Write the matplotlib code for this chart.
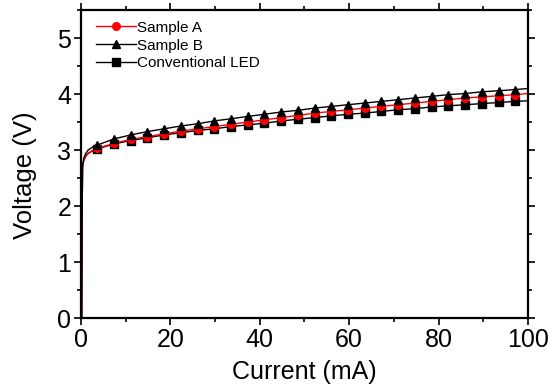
import numpy as np
import matplotlib
matplotlib.use('Agg')
import matplotlib.pyplot as plt
from matplotlib.ticker import MultipleLocator

plt.rcParams['font.family'] = ['Liberation Sans', 'DejaVu Sans']

# current (mA): knee region, then the points that carry markers, then the end point
current = [0.15, 0.25, 0.35, 0.6, 1.0, 1.6, 2.5,
           3.65, 7.39, 11.13, 14.87, 18.61, 22.35, 26.09, 29.83, 33.57, 37.31,
           41.05, 44.79, 48.53, 52.27, 56.01, 59.75, 63.49, 67.23, 70.97,
           74.71, 78.45, 82.19, 85.93, 89.67, 93.41, 97.15, 100.0]

sample_a = [0.0, 1.7, 2.68, 2.80, 2.88, 2.94, 2.99,
            3.03, 3.12, 3.19, 3.24, 3.29, 3.34, 3.38, 3.42, 3.46, 3.50,
            3.54, 3.58, 3.62, 3.66, 3.69, 3.72, 3.75, 3.78, 3.81,
            3.84, 3.87, 3.90, 3.93, 3.95, 3.97, 3.99, 4.01]

sample_b = [0.0, 1.8, 2.72, 2.85, 2.93, 3.00, 3.05,
            3.09, 3.20, 3.27, 3.33, 3.38, 3.43, 3.47, 3.52, 3.56, 3.60,
            3.64, 3.68, 3.71, 3.75, 3.78, 3.81, 3.84, 3.87, 3.90,
            3.93, 3.96, 3.99, 4.01, 4.04, 4.06, 4.08, 4.10]

conventional = [0.0, 1.7, 2.70, 2.81, 2.88, 2.94, 2.98,
                3.02, 3.11, 3.17, 3.22, 3.27, 3.31, 3.35, 3.38, 3.42, 3.45,
                3.48, 3.52, 3.55, 3.58, 3.61, 3.64, 3.66, 3.69, 3.72,
                3.74, 3.77, 3.79, 3.81, 3.83, 3.85, 3.87, 3.88]

marked = list(range(7, len(current) - 1))

fig = plt.figure(figsize=(5.49, 3.89), dpi=100)
ax = fig.add_axes([0.1475, 0.1825, 0.8142, 0.7915])

lc, = ax.plot(current, conventional, color='black', lw=1.0, marker='s', ms=5.5,
              markevery=marked, label='Conventional LED')
la, = ax.plot(current, sample_a, color='red', lw=1.0, marker='o', ms=5.5,
              markevery=marked, label='Sample A')
lb, = ax.plot(current, sample_b, color='black', lw=1.0, marker='^', ms=6,
              markevery=marked, label='Sample B')

ax.set_xlim(0, 100)
ax.set_ylim(0, 5.5)
ax.xaxis.set_major_locator(MultipleLocator(20))
ax.xaxis.set_minor_locator(MultipleLocator(10))
ax.yaxis.set_major_locator(MultipleLocator(1))
ax.yaxis.set_minor_locator(MultipleLocator(0.5))
ax.tick_params(which='both', direction='out', top=True, right=True, width=1.2)
ax.tick_params(which='major', length=5, labelsize=18, pad=2)
ax.tick_params(which='minor', length=3)
for s in ax.spines.values():
    s.set_linewidth(1.6)

ax.set_xlabel('Current (mA)', fontsize=18, labelpad=6)
ax.set_ylabel('Voltage (V)', fontsize=18.5)
ax.yaxis.set_label_coords(-0.098, 0.465)

ax.legend(handles=[la, lb, lc], loc='upper left', frameon=False, fontsize=11,
          handlelength=2.6, handletextpad=0.1, labelspacing=0.25,
          borderaxespad=0.3, bbox_to_anchor=(0.01, 1.0))

fig.savefig('out.png', dpi=100)
